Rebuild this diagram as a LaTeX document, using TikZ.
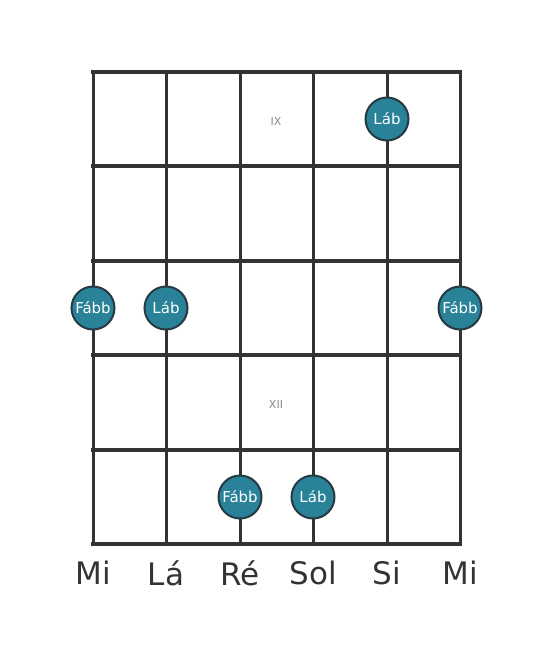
\documentclass[tikz,border=0pt]{standalone}
\usepackage{fontspec}
\setmainfont{DejaVu Sans}
\definecolor{linec}{HTML}{333333}
\definecolor{dotfill}{HTML}{2A8299}
\definecolor{dotline}{HTML}{253A42}
\definecolor{fretlab}{HTML}{888888}
\tikzset{
  fretline/.style={draw=linec, line width=4.5pt},
  stringline/.style={draw=linec, line width=3pt},
  notedot/.style={circle, fill=dotfill, draw=dotline, line width=2pt, minimum size=43pt, inner sep=0pt, text=white, font=\fontsize{15}{15}\selectfont},
  strlabel/.style={text=linec, font=\fontsize{31}{31}\selectfont},
  fretnum/.style={text=fretlab, font=\fontsize{11}{11}\selectfont}
}
\begin{document}
\begin{tikzpicture}[x=1pt,y=-1pt]
\useasboundingbox (0,0) rectangle (553,656);
\foreach \sx in {93,166,240,313,387,460} {
  \draw[stringline] (\sx,72) -- (\sx,544);
}
\foreach \fy in {72,166,261,355,450,544} {
  \draw[fretline] (91,\fy) -- (462,\fy);
}
\node[fretnum] (ix) at (276,121) {IX};
\node[fretnum] (xii) at (276,404) {XII};
\node[notedot] (d1) at (387,119) {Láb};
\node[notedot] (d2) at (93,308) {Fább};
\node[notedot] (d3) at (166,308) {Láb};
\node[notedot] (d4) at (460,308) {Fább};
\node[notedot] (d5) at (240,497) {Fább};
\node[notedot] (d6) at (313,497) {Láb};
\node[strlabel] (s1) at (93,573) {Mi};
\node[strlabel] (s2) at (166,573) {Lá};
\node[strlabel] (s3) at (240,573) {Ré};
\node[strlabel] (s4) at (313,573) {Sol};
\node[strlabel] (s5) at (387,573) {Si};
\node[strlabel] (s6) at (460,573) {Mi};
\end{tikzpicture}
\end{document}
